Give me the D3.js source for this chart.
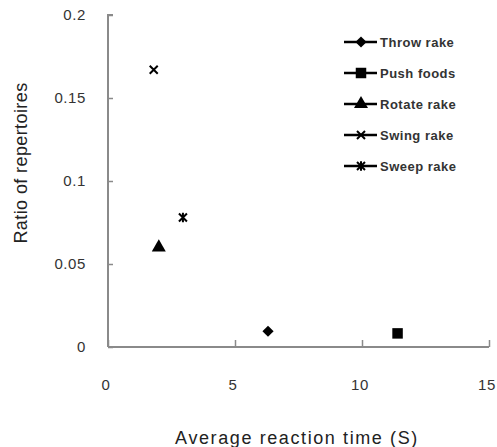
<!DOCTYPE html>
<html>
<head>
<meta charset="utf-8">
<script src="https://cdn.jsdelivr.net/npm/d3@7"></script>
<style>
  body { margin: 0; background: #fff; }
  svg { display: block; font-family: "Liberation Sans", Arial, sans-serif; }
</style>
</head>
<body>
<svg></svg>
<script>
// data
var series = ["Throw rake", "Push foods", "Rotate rake", "Swing rake", "Sweep rake"];
var reactionTime = [6.3, 11.4, 2.0, 1.8, 2.95];
var ratio = [0.0095, 0.0082, 0.060, 0.167, 0.078];
var xTicks = [0, 5, 10, 15];
var yTicks = [0, 0.05, 0.1, 0.15, 0.2];

var svgWidth = 497, svgHeight = 447;

var svg = d3.select("svg")
  .attr("width", svgWidth)
  .attr("height", svgHeight);

var x = d3.scaleLinear().domain([0, 15]).range([108, 489]);
var y = d3.scaleLinear().domain([0, 0.2]).range([347, 15]);

// marker shapes
var cross = {
  draw: function (ctx, size) {
    var r = Math.sqrt(size) / 2;
    ctx.moveTo(-r, -r); ctx.lineTo(r, r);
    ctx.moveTo(-r, r); ctx.lineTo(r, -r);
  }
};
var star = {
  draw: function (ctx, size) {
    var r = Math.sqrt(size) / 2;
    ctx.moveTo(-r, -r); ctx.lineTo(r, r);
    ctx.moveTo(-r, r); ctx.lineTo(r, -r);
    ctx.moveTo(0, -r * 1.2); ctx.lineTo(0, r * 1.2);
  }
};
var diamond = {
  draw: function (ctx, size) {
    var r = Math.sqrt(size) / 1.6;
    ctx.moveTo(0, -r); ctx.lineTo(r, 0); ctx.lineTo(0, r); ctx.lineTo(-r, 0); ctx.closePath();
  }
};
var shapes = [
  { type: diamond, size: 80, filled: true },
  { type: d3.symbolSquare, size: 110, filled: true },
  { type: d3.symbolTriangle, size: 85, filled: true },
  { type: cross, size: 64, filled: false },
  { type: star, size: 64, filled: false }
];

function marker(sel, i) {
  var s = shapes[i];
  sel.attr("d", d3.symbol().type(s.type).size(s.size))
    .attr("fill", s.filled ? "#000" : "none")
    .attr("stroke", "#000")
    .attr("stroke-width", s.filled ? 0 : 2);
}

// y axis
var yAxis = svg.append("g")
  .attr("transform", "translate(" + x(0) + ",0)")
  .call(d3.axisRight(y).tickValues(yTicks).tickSize(5).tickFormat(""));
yAxis.select(".domain").attr("stroke", "#8a8a8a").attr("stroke-width", 2)
  .attr("d", "M5," + y(0.2) + "H0V" + y(0));
yAxis.selectAll(".tick line").attr("stroke", "#8a8a8a").attr("stroke-width", 1.5);

svg.append("g").selectAll("text")
  .data(yTicks)
  .enter().append("text")
  .attr("x", 86)
  .attr("y", function (d) { return y(d); })
  .attr("dy", "0.35em")
  .attr("text-anchor", "end")
  .attr("font-size", 15)
  .attr("letter-spacing", 0.6)
  .attr("fill", "#333")
  .text(function (d) { return d3.format("")(d); });

// x axis
var xAxis = svg.append("g")
  .attr("transform", "translate(0," + y(0) + ")")
  .call(d3.axisTop(x).tickValues(xTicks).tickSize(7).tickFormat(""));
xAxis.select(".domain").attr("stroke", "#8a8a8a").attr("stroke-width", 2)
  .attr("d", "M" + x(0) + ",0H" + x(15));
xAxis.selectAll(".tick line").attr("stroke", "#8a8a8a").attr("stroke-width", 1.5);

svg.append("g").selectAll("text")
  .data(xTicks)
  .enter().append("text")
  .attr("x", function (d) { return x(d) - 2; })
  .attr("y", 385)
  .attr("dy", "0.35em")
  .attr("text-anchor", "middle")
  .attr("font-size", 15)
  .attr("letter-spacing", 0.6)
  .attr("fill", "#333")
  .text(function (d) { return d; });

// axis titles
svg.append("text")
  .attr("x", 297)
  .attr("y", 444)
  .attr("text-anchor", "middle")
  .attr("font-size", 18)
  .attr("letter-spacing", 1.6)
  .attr("fill", "#222")
  .text("Average reaction time (S)");

svg.append("text")
  .attr("transform", "translate(27,163) rotate(-90)")
  .attr("text-anchor", "middle")
  .attr("font-size", 18)
  .attr("letter-spacing", 0.4)
  .attr("fill", "#222")
  .text("Ratio of repertoires");

// points
svg.append("g").selectAll("path")
  .data(series)
  .enter().append("path")
  .attr("transform", function (d, i) {
    return "translate(" + x(reactionTime[i]) + "," + y(ratio[i]) + ")";
  })
  .each(function (d, i) { marker(d3.select(this), i); });

// legend
var legend = svg.append("g").selectAll("g")
  .data(series)
  .enter().append("g")
  .attr("transform", function (d, i) { return "translate(344," + (42 + i * 31) + ")"; });

legend.append("line")
  .attr("x1", 0).attr("x2", 33)
  .attr("stroke", "#000").attr("stroke-width", 2.5);

legend.append("path")
  .attr("transform", "translate(17,0)")
  .each(function (d, i) { marker(d3.select(this), i); });

legend.append("text")
  .attr("x", 36)
  .attr("dy", "0.35em")
  .attr("font-size", 13)
  .attr("font-weight", "bold")
  .attr("letter-spacing", 0.5)
  .attr("fill", "#333")
  .text(function (d) { return d; });
</script>
</body>
</html>
